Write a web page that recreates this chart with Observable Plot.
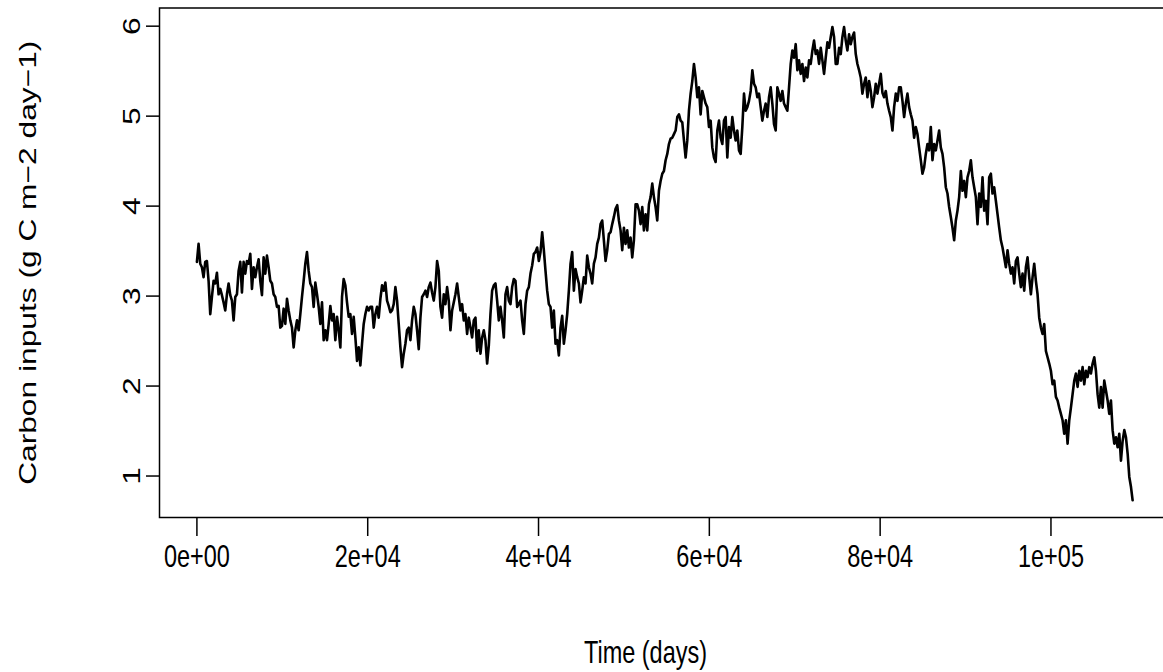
<!DOCTYPE html>
<html>
<head>
<meta charset="utf-8">
<script src="https://cdn.jsdelivr.net/npm/d3@7"></script>
<script src="https://cdn.jsdelivr.net/npm/@observablehq/plot@0.6"></script>
<style>
  html, body { margin: 0; padding: 0; background: #ffffff; }
  #chart svg { display: block; }
</style>
</head>
<body>
<div id="chart"></div>
<script>
const carbonPart1 = [
  3.38, 3.58, 3.36, 3.32, 3.21, 3.38, 3.39, 3.17, 2.80, 2.99,
  3.17, 3.14, 3.26, 3.02, 3.08, 3.01, 2.93, 2.84, 3.02, 3.14,
  3.01, 2.95, 2.73, 2.99, 3.02, 3.28, 3.38, 3.04, 3.38, 3.25,
  3.39, 3.36, 3.47, 3.08, 3.32, 3.21, 3.32, 3.41, 3.17, 3.01,
  3.43, 3.25, 3.45, 3.32, 3.17, 3.14, 3.02, 2.99, 2.88, 2.89,
  2.65, 2.67, 2.86, 2.69, 2.97, 2.84, 2.73, 2.65, 2.43, 2.62,
  2.73, 2.62, 2.80, 2.99, 3.17, 3.36, 3.49, 3.28, 3.14, 3.10,
  2.88, 3.15, 3.02, 2.88, 2.69, 2.93, 2.51, 2.62, 2.51, 2.69,
  2.89, 2.73, 2.80, 2.51, 2.77, 2.62, 2.43, 2.99, 3.19, 3.12,
  2.93, 2.77, 2.80, 2.58, 2.77, 2.54, 2.28, 2.43, 2.23, 2.47,
  2.69, 2.80, 2.88, 2.84, 2.88
];
const carbonPart2 = [
  2.88, 2.65, 2.80, 2.88, 2.76, 2.97, 3.12, 3.06, 3.15, 2.95,
  2.89, 2.82, 2.84, 2.91, 3.10, 2.95, 2.69, 2.43, 2.21, 2.36,
  2.47, 2.62, 2.65, 2.51, 2.73, 2.88, 2.80, 2.62, 2.41, 2.76,
  2.99, 3.02, 3.06, 2.99, 3.10, 3.15, 3.04, 2.95, 3.10, 3.39,
  3.28, 2.88, 2.76, 3.02, 2.91, 3.10, 2.95, 2.62, 2.84, 2.93,
  3.02, 3.14, 2.99, 2.84, 2.91, 2.73, 2.80, 2.58, 2.76, 2.65,
  2.54, 2.73, 2.76, 2.39, 2.62, 2.36, 2.54, 2.62, 2.51, 2.25,
  2.45, 2.80, 3.06, 3.12, 3.14, 2.95, 2.73, 2.88, 2.73, 2.54,
  3.02, 3.10, 2.95, 2.91, 3.10, 3.19, 3.17, 2.88, 2.91, 2.95,
  2.73, 2.58, 2.91, 3.06, 3.10, 3.25, 3.34, 3.47, 3.49, 3.54,
  3.39, 3.49
];
const carbonPart3 = [
  3.71, 3.51, 3.28, 3.06, 2.91, 2.88, 2.65, 2.84, 2.47, 2.51,
  2.34, 2.65, 2.78, 2.47, 2.62, 2.80, 3.06, 3.36, 3.49, 3.06,
  3.30, 3.21, 3.14, 2.93, 3.06, 3.21, 3.14, 3.45, 3.32, 3.25,
  3.14, 3.36, 3.43, 3.58, 3.65, 3.80, 3.84, 3.62, 3.39, 3.51,
  3.69, 3.71, 3.80, 3.88, 3.97, 4.01, 3.84, 3.73, 3.51, 3.76,
  3.58, 3.73, 3.54, 3.65, 3.43, 3.62, 4.02, 4.02, 3.95, 3.80,
  3.99, 3.73, 3.91, 3.73, 4.02, 4.10, 4.25, 4.10, 3.99, 3.84,
  4.17, 4.28, 4.36, 4.39, 4.51, 4.58, 4.69, 4.75, 4.76, 4.80,
  4.84, 4.99, 5.02, 4.95, 4.93, 4.73, 4.54, 4.73, 5.06, 5.25,
  5.39, 5.58, 5.43, 5.21, 5.32, 5.02, 5.28, 5.21, 5.14, 5.10,
  4.88, 4.95
];
const carbonPart4 = [
  4.65, 4.54, 4.49, 4.84, 4.95, 4.76, 4.69, 4.95, 4.99, 4.54,
  4.88, 4.76, 4.99, 4.84, 4.73, 4.84, 4.62, 4.58, 4.88, 5.25,
  5.06, 5.10, 5.17, 5.28, 5.51, 5.36, 5.32, 5.21, 5.25, 5.10,
  4.95, 5.06, 5.14, 4.99, 5.21, 5.32, 5.14, 4.91, 4.84, 5.32,
  5.25, 5.17, 5.28, 5.14, 5.10, 5.06, 5.32, 5.58, 5.73, 5.65,
  5.80, 5.51, 5.62, 5.47, 5.58, 5.39, 5.54, 5.43, 5.62, 5.58,
  5.73, 5.84, 5.69, 5.73, 5.58, 5.76, 5.62, 5.47, 5.65, 5.82,
  5.76, 5.88, 5.99, 5.88, 5.58, 5.58, 5.76, 5.69, 5.88, 5.99,
  5.84, 5.73, 5.91, 5.80, 5.88, 5.93, 5.69, 5.58, 5.51, 5.43,
  5.25, 5.36, 5.43, 5.21, 5.39, 5.28, 5.10, 5.21, 5.36, 5.25,
  5.36, 5.47
];
const carbonPart5 = [
  5.26, 5.21, 5.28, 5.14, 5.06, 4.99, 4.84, 5.10, 5.25, 5.17,
  5.32, 5.32, 5.17, 4.99, 5.14, 5.25, 5.10, 5.02, 4.95, 4.76,
  4.88, 4.80, 4.65, 4.51, 4.36, 4.43, 4.58, 4.69, 4.62, 4.88,
  4.51, 4.69, 4.62, 4.73, 4.84, 4.65, 4.58, 4.43, 4.21, 4.14,
  3.99, 3.88, 3.76, 3.62, 3.84, 3.95, 4.10, 4.39, 4.17, 4.28,
  4.10, 4.32, 4.39, 4.51, 4.32, 4.21, 4.10, 3.80, 4.14, 3.99,
  4.32, 3.95, 4.06, 3.80, 4.32, 4.36, 4.14, 4.21, 4.06, 3.91,
  3.76, 3.62, 3.54, 3.43, 3.32, 3.51, 3.36, 3.25, 3.32, 3.14,
  3.39, 3.43, 3.25, 3.10, 3.25, 3.06, 3.32, 3.43, 3.21, 3.02,
  3.21, 3.36, 3.17, 3.02, 2.76, 2.65, 2.58, 2.69
];
const carbonPart6 = [
  2.39, 2.32, 2.25, 2.17, 2.02, 2.06, 1.88, 1.84, 1.76, 1.69,
  1.62, 1.47, 1.62, 1.36, 1.62, 1.76, 1.91, 2.06, 2.14, 1.99,
  2.17, 2.06, 2.21, 2.02, 2.17, 2.10, 2.21, 2.14, 2.25, 2.32,
  2.17, 1.91, 1.76, 1.99, 1.76, 2.06, 1.95, 1.84, 1.69, 1.84,
  1.51, 1.36, 1.43, 1.32, 1.47, 1.17, 1.39, 1.51, 1.43, 1.25,
  0.99, 0.88, 0.73
];
const dayStep = 195.3;

const xTicks = [0, 20000, 40000, 60000, 80000, 100000];
const xTickLabels = ["0e+00", "2e+04", "4e+04", "6e+04", "8e+04", "1e+05"];
const yTicks = [1, 2, 3, 4, 5, 6];
const xTitle = "Time (days)";
const yTitle = "Carbon inputs (g C m\u22122 day\u22121)";

const carbon = [].concat(carbonPart1, carbonPart2, carbonPart3, carbonPart4, carbonPart5, carbonPart6);
const series = carbon.map((v, i) => ({day: i * dayStep, value: v}));

const W = 1163, H = 672;
const mL = 159, mR = -6, mT = 7.5, mB = 155;
const xDomain = [-4380, 113880];
const yDomain = [0.539, 6.202];
const pxPerDay = (W - mR - mL) / (xDomain[1] - xDomain[0]);
const pxPerUnit = (H - mB - mT) / (yDomain[1] - yDomain[0]);
const fontFamily = "'Liberation Sans', Arial, Helvetica, sans-serif";
const fs = 23.5;
const vStretch = 1.35;
const frameBottom = H - mB;
const xLabelDy = 39, xTitleDy = 135;
const titleCenterX = 645;

const chart = Plot.plot({
  width: W,
  height: H,
  marginLeft: mL,
  marginRight: mR,
  marginTop: mT,
  marginBottom: mB,
  x: {domain: xDomain, axis: null},
  y: {domain: yDomain, axis: null},
  style: {fontFamily, background: "#ffffff", color: "#000000"},
  marks: [
    Plot.frame({stroke: "#000000", strokeWidth: 1.5}),
    Plot.ruleX(xTicks, {x: d => d, y1: yDomain[0], y2: yDomain[0] - 19 / pxPerUnit, stroke: "#000000", strokeWidth: 1.5}),
    Plot.ruleY(yTicks, {y: d => d, x1: xDomain[0], x2: xDomain[0] - 13 / pxPerDay, stroke: "#000000", strokeWidth: 1.5}),
    Plot.line(series, {x: "day", y: "value", stroke: "#000000", strokeWidth: 2.6, strokeLinejoin: "round"}),
    Plot.text(xTicks, {x: d => d, frameAnchor: "bottom", dy: xLabelDy, text: (d, i) => xTickLabels[i], fontSize: fs, textAnchor: "middle", lineAnchor: "middle", fill: "#000000"}),
    Plot.text(yTicks, {y: d => d, frameAnchor: "left", dx: -27, rotate: -90, text: d => String(d), fontSize: fs, textAnchor: "middle", lineAnchor: "middle", fill: "#000000"}),
    Plot.text([xTitle], {frameAnchor: "bottom", x: () => 0, dx: titleCenterX - (mL + (0 - xDomain[0]) * pxPerDay), dy: xTitleDy, text: d => d, fontSize: fs, textAnchor: "middle", lineAnchor: "middle", fill: "#000000"}),
    Plot.text([yTitle], {frameAnchor: "left", dx: -131, rotate: -90, text: d => d, fontSize: fs, textAnchor: "middle", lineAnchor: "middle", fill: "#000000"})
  ]
});

document.getElementById("chart").appendChild(chart);
const svg = chart.tagName.toLowerCase() === "svg" ? chart : chart.querySelector("svg");
const textGroups = Array.from(svg.querySelectorAll('g[aria-label="text"]'));
// vertical centre of each text inside its mark group (dx/dy are applied on the group),
// used to stretch the glyphs vertically as in the reference
const centers = [
  () => frameBottom,
  (i) => mT + (yDomain[1] - yTicks[i]) * pxPerUnit,
  () => frameBottom,
  () => (mT + frameBottom) / 2
];
textGroups.forEach((grp, gi) => {
  Array.from(grp.querySelectorAll("text")).forEach((t, i) => {
    const cy = centers[gi] ? centers[gi](i) : 0;
    const w = document.createElementNS("http://www.w3.org/2000/svg", "g");
    t.parentNode.insertBefore(w, t);
    w.appendChild(t);
    w.setAttribute("transform", `translate(0,${cy}) scale(1,${vStretch}) translate(0,${-cy})`);
  });
});
</script>
</body>
</html>
